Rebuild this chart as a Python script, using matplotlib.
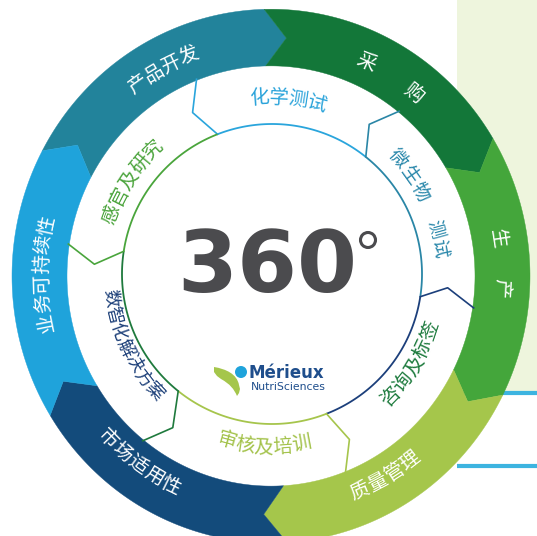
import numpy as np
import matplotlib
matplotlib.use("Agg")
import matplotlib.pyplot as plt
from matplotlib.patches import Polygon, Ellipse, Rectangle, PathPatch
from matplotlib.path import Path

plt.rcParams['font.family'] = ['Noto Sans CJK SC', 'DejaVu Sans']

# ---------------- data ----------------
outer_labels = ["产品开发", "采 购", "生 产", "质量管理", "市场适用性", "业务可持续性"]
outer_colors = ["#22839b", "#137739", "#44a63b", "#a5c64b", "#134b7b", "#1fa3db"]
outer_shares = [1, 1, 1, 1, 1, 1]

inner_labels = ["化学测试", "微生物 测试", "咨询及标签", "审核及培训", "数智化解决方案", "感官及研究"]
inner_line_colors = ["#2aa5dc", "#2a86a6", "#1c3f7b", "#a6c54c", "#1f7a3d", "#4aa53c"]
inner_text_colors = ["#2aa3da", "#2a88ab", "#1e7b3e", "#a3c24a", "#1d4079", "#4ba43c"]
inner_shares = [1, 1, 1, 1, 1, 1]

center_text = "360"
logo_name = "Mérieux"
logo_sub = "NutriSciences"

# ---------------- layout ----------------
CX, CY, SY = 271.0, 276.0, 1.03
R_OUT, R_IN = 259.0, 204.0
R_MID = (R_OUT + R_IN) / 2
TIP = 5.3
ICX, ICY, R_CIRC = 272.0, 274.0, 150.0
KINK_R, KINK_D = 177.0, 5.0
OUTER_EDGES = [152.0, 91.5, 31.0, -26.5, -86.5, -148.5]
INNER_START = 111.3

outer_txt = [(118.3, 229, 19.5, 'out', 14), (58.3, 228, 28, 'out', 14), (3.0, 230, 24, 'out', 14),
             (-59.6, 227, 19.5, 'in', 14), (-126.0, 227, 19.5, 'in', 14), (179.5, 229, 19, 'out', 14)]
inner_txt = [(84.3, 173, 19, 'out', 14), (25.5, 170, 19.5, 'out', 13.5), (-31.5, 168, 19, 'in', 14),
             (-92.5, 166, 19, 'in', 14), (205.6, 162, 17, 'in', 13), (146.6, 170, 19, 'out', 14)]


def P(a, r):
    t = np.radians(a)
    return (CX + r * np.cos(t), CY - r * SY * np.sin(t))


def Q(a, r):
    t = np.radians(a)
    return (ICX + r * np.cos(t), ICY - r * np.sin(t))


def arc(a0, a1, r, n=90, f=P):
    return [f(a, r) for a in np.linspace(a0, a1, n)]


fig = plt.figure(figsize=(5.37, 5.36), dpi=100)
ax = fig.add_axes([0, 0, 1, 1])
ax.set_xlim(0, 537)
ax.set_ylim(536, 0)
ax.axis('off')

# right side panel
ax.add_patch(Rectangle((457, 0), 80, 392, facecolor="#eef5dd", edgecolor='none', zorder=0))
ax.plot([457, 537], [393, 393], color="#3db4e0", lw=3, solid_capstyle='butt', zorder=1)
ax.plot([457, 537], [466, 466], color="#3db4e0", lw=3, solid_capstyle='butt', zorder=1)

# white interior
ax.add_patch(Ellipse((CX, CY), 2 * R_IN, 2 * R_IN * SY, facecolor='white', edgecolor='none', zorder=2))

# outer chevron ring
edges = OUTER_EDGES + [OUTER_EDGES[0] - 360]
for i, col in enumerate(outer_colors):
    a0, a1 = edges[i], edges[i + 1]
    pts = arc(a0, a1, R_OUT) + [P(a1 - TIP, R_MID)] + arc(a1, a0, R_IN) + [P(a0 - TIP, R_MID)]
    ax.add_patch(Polygon(pts, closed=True, facecolor=col, edgecolor=col, lw=0.3, zorder=3))

# inner circle arcs and chevron separators
tot = sum(inner_shares)
starts = INNER_START - 360 * np.concatenate([[0], np.cumsum(inner_shares)]) / tot
for i, col in enumerate(inner_line_colors):
    a0, a1 = starts[i], starts[i + 1]
    xs, ys = zip(*arc(a0, a1, R_CIRC, f=Q))
    ax.plot(xs, ys, color=col, lw=1.3, zorder=4, solid_capstyle='butt')
    sx, sy = zip(*[Q(a0, R_CIRC), P(a0 + KINK_D, KINK_R), P(a0, R_IN + 1)])
    ax.plot(sx, sy, color=col, lw=1.2, zorder=4)


def arc_text(s, ang, r, spacing, orient, color, size, weight='normal'):
    n = len(s)
    dth = np.degrees(spacing / r)
    for i, ch in enumerate(s):
        off = (i - (n - 1) / 2) * dth
        if orient == 'out':
            a = ang - off
            rot = a - 90
        else:
            a = ang + off
            rot = a + 90
        if ch == ' ':
            continue
        x, y = P(a, r)
        ax.text(x, y, ch, color=color, fontsize=size, rotation=rot, rotation_mode='anchor',
                ha='center', va='center', fontweight=weight, zorder=6)


for lab, (ang, r, sp, o, fs) in zip(outer_labels, outer_txt):
    arc_text(lab, ang, r, sp, o, 'white', fs, 'light')
for lab, col, (ang, r, sp, o, fs) in zip(inner_labels, inner_text_colors, inner_txt):
    arc_text(lab, ang, r, sp, o, col, fs)

# 360 degrees
ax.text(267.5, 292, center_text, ha='center', va='baseline', fontsize=62, fontweight='bold',
        color="#4b4b4e", family='DejaVu Sans', zorder=6)
ax.add_patch(Ellipse((368, 240), 15, 15, facecolor='none', edgecolor="#4b4b4e", lw=2.2, zorder=6))

# logo
ax.add_patch(Ellipse((241, 372), 12, 12, facecolor="#1fa3db", edgecolor='none', zorder=6))
leaf = Path([(214, 367), (226, 369), (237, 374), (239, 385), (240, 389), (239, 393), (237, 396),
             (234, 389), (230, 384), (221, 379), (217, 376), (214, 372), (214, 367)],
            [Path.MOVETO, Path.CURVE4, Path.CURVE4, Path.CURVE4, Path.LINETO, Path.LINETO, Path.LINETO,
             Path.CURVE4, Path.CURVE4, Path.CURVE4, Path.LINETO, Path.LINETO, Path.CLOSEPOLY])
ax.add_patch(PathPatch(leaf, facecolor="#a5c64b", edgecolor='none', zorder=6))
ax.text(249, 378, logo_name, ha='left', va='baseline', fontsize=12, fontweight='bold',
        color="#1f4e8c", family='DejaVu Sans', zorder=6)
ax.text(251, 390, logo_sub, ha='left', va='baseline', fontsize=7.8,
        color="#1f4e8c", family='DejaVu Sans', zorder=6)

fig.savefig("out.png", dpi=100)
